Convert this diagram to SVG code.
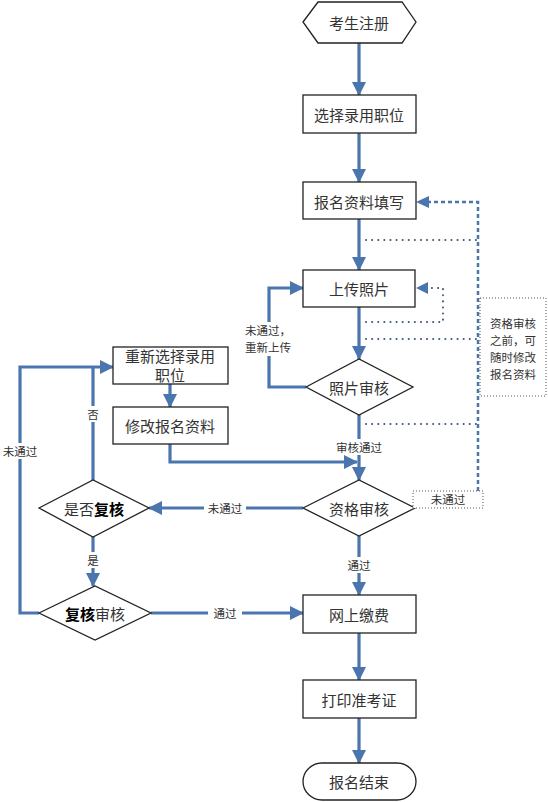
<svg xmlns="http://www.w3.org/2000/svg" width="548" height="802" viewBox="0 0 548 802">
<style>
.node{fill:#fff;stroke:#222;stroke-width:1.3}
.t{font-family:"Noto Sans CJK SC","Liberation Serif",serif;font-size:15px;fill:#333;text-anchor:middle;dominant-baseline:central}
.s{font-family:"Noto Sans CJK SC","Liberation Serif",serif;font-size:11.5px;fill:#333;text-anchor:middle;dominant-baseline:central}
.b{font-weight:bold;fill:#000}
.flow{fill:none;stroke:#4a76ad;stroke-width:3.2}
.dash{fill:none;stroke:#4a76ad;stroke-width:2.5;stroke-dasharray:4 3}
.dot{fill:none;stroke:#3f5878;stroke-width:2;stroke-dasharray:0.1 6;stroke-linecap:round}
.dotbox{fill:#fff;stroke:#555;stroke-width:1;stroke-dasharray:1 2}
.lbl{fill:#fff}
</style>
<defs>
<marker id="ah" markerUnits="userSpaceOnUse" markerWidth="14" markerHeight="14" viewBox="0 0 14 14" refX="13" refY="7" orient="auto">
<path d="M0,0 L14,7 L0,14 z" fill="#4a76ad"/>
</marker>
</defs>

<g id="connectors">
<path class="flow" d="M359,43 V95" marker-end="url(#ah)"/>
<path class="flow" d="M359,133 V182" marker-end="url(#ah)"/>
<path class="flow" d="M359,219 V270" marker-end="url(#ah)"/>
<path class="flow" d="M359,307 V359" marker-end="url(#ah)"/>
<path class="flow" d="M306,387 H269 V288 H303" marker-end="url(#ah)"/>
<path class="flow" d="M359,415 V480" marker-end="url(#ah)"/>
<path class="flow" d="M170,444 V462 H357" marker-end="url(#ah)"/>
<path class="flow" d="M170,384 V407" marker-end="url(#ah)"/>
<path class="flow" d="M303,508 H149" marker-end="url(#ah)"/>
<path class="flow" d="M93,480 V367"/>
<path class="flow" d="M39,613 H20 V367 H113" marker-end="url(#ah)"/>
<path class="flow" d="M93,537 V586" marker-end="url(#ah)"/>
<path class="flow" d="M151,613 H303" marker-end="url(#ah)"/>
<path class="flow" d="M359,536 V595" marker-end="url(#ah)"/>
<path class="flow" d="M359,633 V680" marker-end="url(#ah)"/>
<path class="flow" d="M359,718 V763" marker-end="url(#ah)"/>
<path class="dash" d="M478,498 V202 H418"/>
<path d="M416,202 L429,196 L429,208 z" fill="#4a76ad"/>
<path class="dot" d="M366,240 H478"/>
<path class="dot" d="M366,322 H443 V288 H430"/>
<path d="M416,288 L428,282 L428,294 z" fill="#4a76ad"/>
<path class="dot" d="M366,339 H478"/>
<path class="dot" d="M366,424 H478"/>
<rect class="lbl" x="330" y="439" width="58" height="16"/>
<text class="s" x="359" y="447">审核通过</text>
<rect class="lbl" x="340" y="557" width="38" height="16"/>
<text class="s" x="359" y="565">通过</text>
<rect class="lbl" x="204" y="500" width="42" height="16"/>
<text class="s" x="225" y="508">未通过</text>
<rect class="lbl" x="208" y="605" width="34" height="16"/>
<text class="s" x="225" y="613">通过</text>
<rect class="lbl" x="85" y="552" width="16" height="16"/>
<text class="s" x="93" y="560">是</text>
<rect class="lbl" x="85" y="406" width="16" height="16"/>
<text class="s" x="93" y="414">否</text>
<rect class="lbl" x="0" y="443" width="40" height="16"/>
<text class="s" x="20" y="451">未通过</text>
<rect class="lbl" x="240" y="322" width="56" height="34"/>
<text class="s" x="268" y="330">未通过，</text>
<text class="s" x="268" y="347">重新上传</text>
</g>

<g id="n1"><path class="node" d="M303,22 L318,2 L402,2 L416,22 L402,43 L318,43 z"/><text class="t" x="359" y="22">考生注册</text></g>
<g id="n2"><rect class="node" x="303" y="95" width="113" height="38"/><text class="t" x="359" y="114">选择录用职位</text></g>
<g id="n3"><rect class="node" x="303" y="182" width="113" height="37"/><text class="t" x="359" y="201">报名资料填写</text></g>
<g id="n4"><rect class="node" x="303" y="270" width="112" height="37"/><text class="t" x="359" y="288">上传照片</text></g>
<g id="n5"><path class="node" d="M306,387 L359,359 L413,387 L359,415 z"/><text class="t" x="359" y="387">照片审核</text></g>
<g id="n6"><path class="node" d="M303,508 L359,480 L415,508 L359,536 z"/><text class="t" x="359" y="508">资格审核</text></g>
<g id="n7"><rect class="node" x="113" y="347" width="115" height="37"/><text class="t" x="170" y="355">重新选择录用</text><text class="t" x="170" y="374">职位</text></g>
<g id="n8"><rect class="node" x="113" y="407" width="115" height="37"/><text class="t" x="170" y="425">修改报名资料</text></g>
<g id="n9"><path class="node" d="M39,508 L93,480 L149,508 L93,537 z"/><text class="t" x="94" y="508">是否<tspan class="b">复核</tspan></text></g>
<g id="n10"><path class="node" d="M39,613 L95,586 L151,613 L95,640 z"/><text class="t" x="95" y="613"><tspan class="b">复核</tspan>审核</text></g>
<g id="n11"><rect class="node" x="303" y="595" width="113" height="38"/><text class="t" x="359" y="614">网上缴费</text></g>
<g id="n12"><rect class="node" x="303" y="680" width="113" height="38"/><text class="t" x="359" y="699">打印准考证</text></g>
<g id="n13"><rect class="node" x="303" y="763" width="113" height="37" rx="19" ry="18.5"/><text class="t" x="359" y="781">报名结束</text></g>
<g id="n14"><rect class="dotbox" x="413" y="491" width="70" height="17"/><text class="s" x="448" y="499">未通过</text></g>
<g id="n15"><rect class="dotbox" x="480" y="298" width="66" height="98"/>
<text class="s" x="513" y="323">资格审核</text>
<text class="s" x="513" y="340">之前，可</text>
<text class="s" x="513" y="357">随时修改</text>
<text class="s" x="513" y="374">报名资料</text></g>
</svg>
